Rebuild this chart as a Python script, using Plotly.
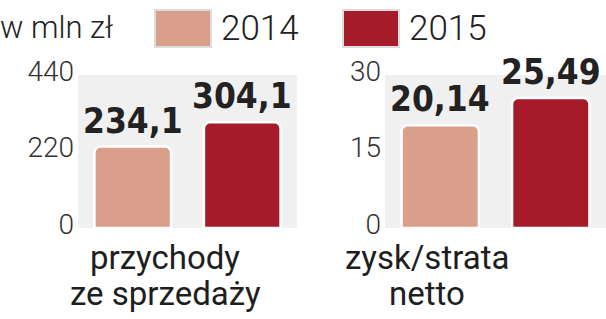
import plotly.graph_objects as go

# ---- data ----
categories = ["przychody<br>ze sprzedaży", "zysk/strata<br>netto"]
years = ["2014", "2015"]
values_2014 = [234.1, 20.14]
values_2015 = [304.1, 25.49]
decimals = [1, 2]
y_ranges = [[0, 440], [0, 30]]
y_ticks = [[0, 220, 440], [0, 15, 30]]
unit_label = "w mln zł"

colors = {"2014": "#d99f8b", "2015": "#a51b29"}
W, H = 606, 319

def px(x):
    return x / W

def py(y):
    return 1 - y / H

fig = go.Figure()

x_domains = [[px(78), px(297)], [px(385), 1.0]]
y_domain = [py(228), py(75)]
label_centers = [165, 427]

light_font = dict(family="Roboto", size=28, color="#333333", weight=300)
value_font = dict(family="DejaVu Sans Condensed", size=35, color="#222222", weight=700)

for i, cat in enumerate(categories):
    xa = "x" if i == 0 else "x2"
    ya = "y" if i == 0 else "y2"
    vals = [values_2014[i], values_2015[i]]
    texts = [f"{v:.{decimals[i]}f}".replace(".", ",") for v in vals]
    fig.add_trace(go.Bar(
        x=years, y=vals, xaxis=xa, yaxis=ya,
        marker=dict(color=[colors[y] for y in years],
                    line=dict(color="white", width=2.5), cornerradius=6),
        showlegend=False, width=0.7, hoverinfo="skip",
    ))
    for k, (v, t) in enumerate(zip(vals, texts)):
        fig.add_annotation(text=t, xref=xa, yref=ya, x=k, y=v,
                           xanchor="center", yanchor="bottom", yshift=4,
                           showarrow=False, font=value_font)
    # gridline at middle tick
    fig.add_shape(type="line", xref=f"{xa} domain", yref=ya,
                  x0=0, x1=1, y0=y_ticks[i][1], y1=y_ticks[i][1],
                  line=dict(color="#d6d6d6", width=1), layer="below")
    lines = cat.split("<br>")
    for j, ln in enumerate(lines):
        fig.add_annotation(text=ln, xref="paper", yref="paper",
                           x=px(label_centers[i]), y=py(257 + 36 * j),
                           xanchor="center", yanchor="middle", showarrow=False,
                           font=dict(family="Roboto", size=33, color="#1e1e1e", weight=400))

layout_axes = {}
for i in range(2):
    sx = "" if i == 0 else "2"
    layout_axes[f"xaxis{sx}"] = dict(domain=x_domains[i], range=[-0.5, 1.5],
                                     type="category",
                                     showticklabels=False, showgrid=False,
                                     zeroline=False, fixedrange=True,
                                     automargin=False, anchor=f"y{sx}")
    layout_axes[f"yaxis{sx}"] = dict(domain=y_domain, range=y_ranges[i],
                                     tickvals=y_ticks[i], showgrid=False,
                                     zeroline=False, tickfont=light_font,
                                     ticks="", ticklen=0, ticklabelstandoff=3,
                                     ticklabelshift=-4, automargin=False,
                                     anchor=f"x{sx}")

fig.update_layout(**layout_axes)

# plot backgrounds
for i in range(2):
    fig.add_shape(type="rect", xref="paper", yref="paper",
                  x0=x_domains[i][0], x1=x_domains[i][1], y0=y_domain[0], y1=y_domain[1],
                  fillcolor="#f0f0f0", line=dict(width=0), layer="below")

# legend (manual)
fig.add_annotation(text=unit_label, xref="paper", yref="paper", x=px(-2), y=py(27),
                   xanchor="left", yanchor="middle", showarrow=False,
                   font=dict(family="Roboto", size=31, color="#222222", weight=300))
swatch_x = [155, 343]
for k, yr in enumerate(years):
    x0 = swatch_x[k]
    fig.add_shape(type="rect", xref="paper", yref="paper",
                  x0=px(x0), x1=px(x0 + 56), y0=py(47), y1=py(10),
                  fillcolor=colors[yr], line=dict(color="#dddddd", width=2))
    fig.add_annotation(text=yr, xref="paper", yref="paper", x=px(x0 + 64), y=py(28),
                       xanchor="left", yanchor="middle", showarrow=False,
                       font=dict(family="Roboto", size=35, color="#222222", weight=300))

fig.update_layout(width=W, height=H, margin=dict(l=0, r=0, t=0, b=0),
                  paper_bgcolor="white", plot_bgcolor="rgba(0,0,0,0)",
                  bargap=0.3, showlegend=False)

fig.write_html("out.html", config={"displayModeBar": False})
